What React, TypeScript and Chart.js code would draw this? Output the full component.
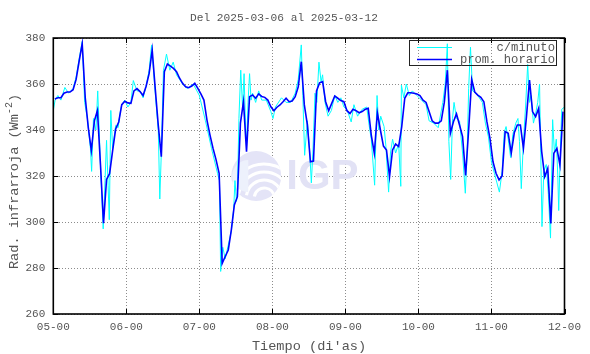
import React, { useEffect, useRef } from 'react';
import { Chart, registerables } from 'chart.js';

Chart.register(...registerables);

const titleText = 'Del 2025-03-06 al 2025-03-12';
const xAxisTitle = "Tiempo (di'as)";
const yAxisTitleMain = 'Rad. infrarroja (Wm';
const yAxisTitleSup = '-2';
const yAxisTitleEnd = ')';
const legendLabels = ['c/minuto', 'prom. horario'];
const xTickLabels = ['05-00', '06-00', '07-00', '08-00', '09-00', '10-00', '11-00', '12-00'];
const yMin = 260;
const yMax = 380;
const yStep = 20;
const hoursPerDay = 24;

// hourly means (prom. horario), one per hour from day 05 00h
const hourlyDay05 = [353.5, 354, 354, 356, 356.5, 356.5, 357.5, 362, 370, 377.5, 354, 341, 331, 344, 348.5, 325, 299.5, 318.5, 321, 331, 340.5, 343.5, 351, 352.5];
const hourlyDay06 = [351.8, 351.6, 357, 358, 356.7, 355, 359, 364.6, 374.8, 358, 342, 328.4, 365.4, 368.7, 367.8, 366.8, 365.4, 362.5, 360.3, 358.8, 358.4, 359.1, 360.3, 358.1];
const hourlyDay07 = [355.7, 353, 344.3, 337.8, 332, 327, 321.2, 282, 285, 287.8, 296.5, 307.4, 311, 343, 352.3, 330.6, 354.5, 355.2, 353.8, 355.7, 354.6, 354.2, 353, 350.1];
const hourlyDay08 = [348.4, 349.9, 350.9, 352.3, 353.8, 352.3, 352.6, 354.5, 358.8, 369.7, 350.9, 342.2, 326.2, 326.5, 357, 360.5, 361, 352.3, 348.4, 351.6, 354.8, 353.8, 352.8, 352.3];
const hourlyDay09 = [348.4, 347.2, 349, 348.4, 347.5, 348, 349, 349.4, 337.8, 329.9, 347.5, 340, 333, 331.3, 319.7, 331.3, 333.9, 332.8, 341.4, 353.8, 356.2, 356.2, 356, 355.7];
const hourlyDay10 = [355, 353, 352, 348, 344, 343, 343, 344, 352, 366, 338.6, 343.6, 347, 342.2, 337.1, 320.2, 340, 362, 356.5, 355.2, 354.2, 352.3, 343.6, 336.4];
const hourlyDay11 = [326.2, 321.2, 318.3, 320, 339.3, 338.6, 329.9, 338.8, 342.2, 342.2, 332, 345.8, 361.7, 348, 345.8, 349.4, 330.6, 319.7, 323.3, 299.4, 329.9, 332, 324.8, 348];

// minute samples (c/minuto): [hours since day 05 00h, value]
const minuteSamples: [number, number][] = [
  [0, 348.5], [0.6, 353], [1.5, 355], [2.5, 353], [3.8, 358.5], [5, 356], [6.5, 358], [7.5, 363], [8.5, 371], [9.5, 378.5],
  [10.3, 352], [11.2, 345], [12.2, 332], [12.6, 322], [13.2, 345], [14, 340], [14.6, 357], [15.5, 325], [16.4, 297], [17, 318],
  [17.5, 335.5], [18, 316], [18.4, 301], [18.9, 348.5], [19.5, 332], [20.5, 342], [21.3, 341], [21.9, 347], [22.5, 351], [23.5, 353],
  [24.5, 350], [25.5, 352], [26.3, 361.5], [27.5, 357], [28.5, 357], [29.5, 354], [30.5, 359], [31.5, 366], [32.3, 377], [33.5, 356],
  [34.5, 340], [35, 310], [35.5, 330], [36.2, 366], [37.2, 373], [38.3, 366], [39.4, 369.5], [40.5, 364], [41.5, 362], [42.5, 360],
  [44, 358], [46, 360], [48, 355], [50, 344], [52, 332], [54, 321], [54.6, 318], [55, 278.5], [55.7, 289], [56.5, 284],
  [57.5, 290], [58.5, 296], [59.3, 306], [59.7, 318], [60.2, 309], [60.5, 312.5], [61, 345], [61.6, 366], [62.2, 350], [62.7, 364.5],
  [63.2, 340], [63.5, 333], [64, 352], [64.5, 364.5], [65, 353], [65.5, 356], [66.5, 352], [67.5, 357], [68.5, 353], [70, 353],
  [71.5, 348], [72.2, 345], [73, 350], [75, 354], [76.5, 352], [78, 352], [79.5, 356], [80.5, 362], [81.5, 377], [82, 355],
  [82.6, 329], [83.5, 344], [84.3, 330], [84.8, 317], [85.3, 330], [86, 356], [86.6, 352], [87.3, 369.5], [88, 361], [88.5, 364],
  [89.3, 352], [90.3, 346], [91.4, 348.5], [92.5, 355], [93.5, 352], [94.5, 354], [95.5, 350], [96.5, 349], [97.9, 343.5], [98.8, 351],
  [100, 346], [101.5, 349], [103, 350], [103.8, 342], [104.5, 336], [105.6, 316], [106.4, 355], [107, 340], [107.6, 346], [108.7, 341.5],
  [109.3, 333], [110.2, 313], [110.8, 330], [111.5, 336], [112.5, 330], [113.5, 334], [114.2, 315.5], [114.4, 359.5], [115.2, 354], [116, 360],
  [117, 355], [118, 357], [119.5, 355], [121, 353], [122.5, 351], [123.5, 344], [125, 343], [126.5, 341], [128, 352], [128.8, 360],
  [129.5, 377.5], [130, 335], [130.6, 318.5], [131.2, 345], [131.7, 352], [132.5, 345], [133.5, 344], [134.5, 330], [135.4, 312.5], [136, 330],
  [136.5, 358], [137.1, 376], [137.8, 357], [138.8, 356], [140, 354], [141, 352], [142, 343], [143, 337], [144, 326], [145, 321],
  [145.8, 317], [146.6, 313], [147.5, 322], [148.2, 339], [148.8, 341.5], [149.5, 336], [150.3, 328], [151, 338], [152, 343], [152.7, 345],
  [153.2, 335], [153.8, 314.5], [154.5, 335], [155.2, 350], [155.9, 368.5], [156.5, 352], [157, 355], [157.8, 343], [158.5, 347], [159.2, 352],
  [159.8, 360], [160.2, 330], [160.6, 298], [161.2, 322], [162, 325], [162.7, 312], [163.4, 293], [164.1, 344.5], [164.7, 330], [165.3, 336],
  [165.8, 320], [166.1, 305], [166.6, 330], [167.1, 349], [168, 350],
];

const hourlyValues = [
  ...hourlyDay05, ...hourlyDay06, ...hourlyDay07, ...hourlyDay08,
  ...hourlyDay09, ...hourlyDay10, ...hourlyDay11,
];

const MONO = '"Liberation Mono", "DejaVu Sans Mono", monospace';
const TEXT_COLOR = '#555555';
const CYAN = '#00ffff';
const BLUE = '#0000ff';

const decorPlugin = {
  id: 'gnuplotDecor',
  beforeDatasetsDraw(chart: any) {
    const ctx = chart.ctx as CanvasRenderingContext2D;
    const { left, right, top, bottom } = chart.chartArea;
    const cx = left + (right - left) * 0.397;
    const cy = top + (bottom - top) * 0.5;
    const r = 25;
    ctx.save();
    ctx.beginPath();
    ctx.arc(cx, cy, r, 0, Math.PI * 2);
    ctx.fillStyle = '#e4e4f7';
    ctx.fill();
    ctx.clip();
    ctx.strokeStyle = '#ffffff';
    ctx.lineWidth = 3;
    [10, 18, 26, 34].forEach((rr) => {
      ctx.beginPath();
      ctx.arc(cx + 8, cy + 22, rr, Math.PI * 1.05, Math.PI * 1.95);
      ctx.stroke();
    });
    ctx.fillStyle = '#edf1fc';
    ctx.beginPath();
    ctx.arc(cx - 8, cy, 16, Math.PI * 0.5, Math.PI * 1.5);
    ctx.fill();
    ctx.restore();
    ctx.save();
    ctx.font = 'bold 42px "Liberation Sans", Arial, sans-serif';
    ctx.fillStyle = '#e2e2f5';
    ctx.textBaseline = 'middle';
    ctx.textAlign = 'left';
    ctx.fillText('IGP', cx + 30, cy + 1);
    ctx.restore();
  },
  afterDatasetsDraw(chart: any) {
    const ctx = chart.ctx as CanvasRenderingContext2D;
    const { left, right, top, bottom } = chart.chartArea;
    const xs = chart.scales.x;
    const ys = chart.scales.y;
    ctx.save();
    ctx.strokeStyle = '#000';
    ctx.lineWidth = 1;
    const tl = 5;
    xs.ticks.forEach((t: any) => {
      const px = Math.round(xs.getPixelForValue(t.value)) + 0.5;
      ctx.beginPath();
      ctx.moveTo(px, top); ctx.lineTo(px, top + tl);
      ctx.moveTo(px, bottom); ctx.lineTo(px, bottom - tl);
      ctx.stroke();
    });
    ys.ticks.forEach((t: any) => {
      const py = Math.round(ys.getPixelForValue(t.value)) + 0.5;
      ctx.beginPath();
      ctx.moveTo(left, py); ctx.lineTo(left + tl, py);
      ctx.moveTo(right, py); ctx.lineTo(right - tl, py);
      ctx.stroke();
    });
    ctx.lineWidth = 1.6;
    ctx.strokeRect(left, top, right - left, bottom - top);

    // legend (transparent box)
    const lx0 = 409.5, ly0 = 40.5, lx1 = 556.5, ly1 = 65.5;
    ctx.lineWidth = 1;
    ctx.strokeStyle = '#222';
    ctx.strokeRect(lx0, ly0, lx1 - lx0, ly1 - ly0);
    const rows = [
      { label: legendLabels[0], color: CYAN, width: 1, y: 47.5 },
      { label: legendLabels[1], color: BLUE, width: 1.5, y: 59.5 },
    ];
    ctx.font = `12.2px ${MONO}`;
    ctx.textAlign = 'right';
    ctx.textBaseline = 'middle';
    rows.forEach((row) => {
      ctx.strokeStyle = row.color;
      ctx.lineWidth = row.width;
      ctx.beginPath();
      ctx.moveTo(417, row.y);
      ctx.lineTo(452, row.y);
      ctx.stroke();
      ctx.fillStyle = TEXT_COLOR;
      ctx.fillText(row.label, 555, row.y + 0.5);
    });

    // title
    ctx.textAlign = 'center';
    ctx.fillStyle = TEXT_COLOR;
    ctx.font = `11.2px ${MONO}`;
    ctx.fillText(titleText, 284, 18.5);
    // x axis title
    ctx.font = `13.6px ${MONO}`;
    ctx.fillText(xAxisTitle, 309, 346);
    // y axis title with superscript
    ctx.translate(14, 181.5);
    ctx.rotate(-Math.PI / 2);
    const mainFont = `13.6px ${MONO}`;
    const supFont = `10px ${MONO}`;
    ctx.font = mainFont;
    const wMain = ctx.measureText(yAxisTitleMain).width;
    const wEnd = ctx.measureText(yAxisTitleEnd).width;
    ctx.font = supFont;
    const wSup = ctx.measureText(yAxisTitleSup).width;
    const total = wMain + wSup + wEnd;
    let x0 = -total / 2;
    ctx.textAlign = 'left';
    ctx.font = mainFont;
    ctx.fillText(yAxisTitleMain, x0, 0);
    x0 += wMain;
    ctx.font = supFont;
    ctx.fillText(yAxisTitleSup, x0, -5);
    x0 += wSup;
    ctx.font = mainFont;
    ctx.fillText(yAxisTitleEnd, x0, 0);
    ctx.restore();
  },
};

export default function App() {
  const canvasRef = useRef<HTMLCanvasElement | null>(null);

  useEffect(() => {
    const canvas = canvasRef.current;
    if (!canvas) return;
    const hourlyPoints = hourlyValues.map((v, i) => ({ x: i + 0.5, y: v }));
    const minutePoints = minuteSamples.map(([t, v]) => ({ x: t, y: v }));
    const chart = new Chart(canvas, {
      type: 'line',
      data: {
        datasets: [
          {
            label: legendLabels[0],
            data: minutePoints,
            borderColor: CYAN,
            borderWidth: 1,
            pointRadius: 0,
            tension: 0,
            order: 2,
          },
          {
            label: legendLabels[1],
            data: hourlyPoints,
            borderColor: BLUE,
            borderWidth: 1.6,
            pointRadius: 0,
            tension: 0,
            order: 1,
          },
        ],
      },
      options: {
        responsive: false,
        animation: false,
        devicePixelRatio: 1,
        layout: { padding: { left: 0, right: 590 - 564.5, top: 38, bottom: 0 } },
        plugins: {
          legend: { display: false },
          title: { display: false },
          tooltip: { enabled: false },
        },
        scales: {
          x: {
            type: 'linear',
            min: 0,
            max: xTickLabels.length * hoursPerDay - hoursPerDay,
            afterFit: (s: any) => { s.height = 40; },
            ticks: {
              stepSize: hoursPerDay,
              autoSkip: false,
              maxRotation: 0,
              padding: 6,
              color: TEXT_COLOR,
              font: { family: MONO, size: 11 },
              callback: (v: any) => xTickLabels[Math.round(Number(v) / hoursPerDay)] ?? '',
            },
            grid: { color: '#8c8c8c', drawTicks: false, lineWidth: 1 },
            border: { display: false, dash: [1, 2] },
          },
          y: {
            type: 'linear',
            min: yMin,
            max: yMax,
            afterFit: (s: any) => { s.width = 53.3; },
            ticks: {
              stepSize: yStep,
              padding: 8,
              color: TEXT_COLOR,
              font: { family: MONO, size: 11 },
            },
            grid: { color: '#8c8c8c', drawTicks: false, lineWidth: 1 },
            border: { display: false, dash: [1, 2] },
          },
        },
      },
      plugins: [decorPlugin],
    });
    return () => chart.destroy();
  }, []);

  return (
    <div style={{ position: 'absolute', left: 0, top: 0, width: 590, height: 354, background: '#fff' }}>
      <canvas ref={canvasRef} width={590} height={354} style={{ display: 'block' }} />
    </div>
  );
}
